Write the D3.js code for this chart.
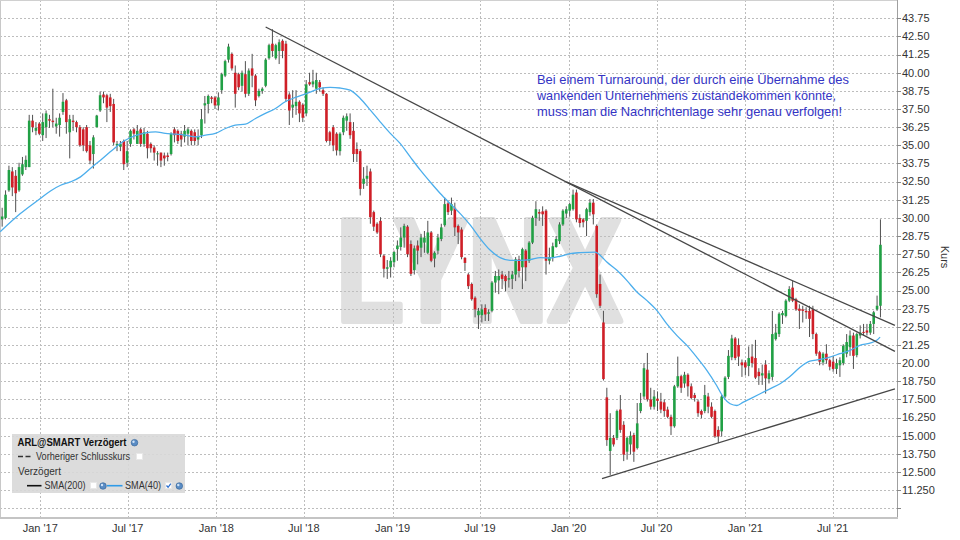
<!DOCTYPE html>
<html><head><meta charset="utf-8">
<script src="https://cdn.jsdelivr.net/npm/d3@7"></script>
<style>body{margin:0;background:#fff;} svg{display:block;font-family:"Liberation Sans",Arial,sans-serif;}</style>
</head><body><svg id="c" width="960" height="540"></svg>
<script>
// ---- data (weekly candles, ARL) ----
const firstWeek = "2016-10-14";
const open = [
29.9,30.0,31.9,33.2,32.9,31.9,33.0,33.5,33.5,36.7,
36.0,36.5,35.7,36.25,36.8,36.7,36.3,36.4,37.3,38.1,
35.9,36.7,36.6,36.25,36.1,36.25,35.0,34.4,36.25,37.4,
38.5,38.45,38.3,37.85,35.0,34.9,35.3,33.8,35.1,36.1,
35.1,36.1,35.1,35.8,35.1,34.85,34.4,34.5,34.3,34.3,
34.4,36.1,36.0,35.8,35.6,35.8,36.0,35.9,35.4,35.7,
37.75,37.85,38.3,38.3,37.75,38.8,39.8,40.9,41.3,40.0,
39.9,39.1,39.9,38.55,40.3,39.8,38.4,38.75,39.1,41.0,
42.0,41.0,41.5,42.2,42.0,38.5,37.6,37.7,38.0,37.8,
37.2,39.35,39.2,38.9,39.35,38.8,38.55,35.9,36.25,35.8,
34.6,35.9,36.7,36.6,36.0,34.75,34.6,32.35,32.7,33.2,
30.4,29.6,29.8,27.4,26.5,26.6,26.95,27.85,28.0,28.65,
29.4,28.2,26.4,28.1,27.95,28.3,27.6,29.0,27.2,27.75,
28.55,29.5,31.0,30.5,30.7,29.45,29.2,27.25,26.1,25.45,
24.5,23.3,23.3,23.8,23.4,23.6,25.55,25.7,26.1,26.0,
25.75,25.8,26.1,27.15,26.6,27.75,27.05,28.3,30.0,30.4,
30.45,30.5,27.05,27.3,28.0,28.4,29.55,30.3,30.5,30.6,
31.75,30.0,29.9,29.8,30.4,31.05,29.45,25.45,22.8,17.64,
13.95,14.85,14.85,16.8,15.75,13.9,14.4,15.05,14.15,16.7,
17.7,19.55,17.5,17.0,17.55,17.35,17.3,16.8,16.3,15.65,
18.4,19.1,18.6,19.2,18.4,17.8,17.35,16.7,16.7,17.7,
17.0,16.7,15.4,15.3,17.7,19.05,20.4,21.7,21.25,20.05,
20.05,19.8,20.45,20.35,19.4,19.15,19.9,18.9,19.05,21.65,
22.0,23.3,23.25,24.3,25.2,24.4,23.75,23.7,23.6,23.6,
23.7,22.0,20.75,20.05,20.65,20.2,20.1,19.6,19.85,20.0,
20.65,21.1,21.9,20.55,21.9,22.15,22.25,22.1,22.7,23.7,
23.95];
const high = [
30.7,31.9,33.6,33.5,33.3,33.8,34.2,34.3,37.1,37.1,
36.6,36.6,37.2,37.4,37.1,38.9,36.9,37.2,38.6,38.2,
37.1,37.1,36.7,36.4,36.25,36.4,35.3,35.7,37.1,38.7,
38.7,38.55,38.55,38.2,35.3,35.3,35.4,35.3,36.1,36.2,
36.4,36.2,36.2,36.0,35.2,35.0,34.6,34.5,34.5,34.5,
35.9,36.25,36.1,36.0,36.4,36.25,36.1,36.1,36.1,37.5,
38.4,38.5,38.4,38.4,38.65,40.0,40.9,42.0,41.4,40.5,
40.0,40.15,40.8,40.3,41.3,39.9,38.9,39.0,41.0,42.0,
43.0,42.0,42.3,42.3,42.2,38.65,38.8,38.8,38.1,37.9,
39.5,40.0,40.2,40.0,39.5,39.0,38.6,36.0,36.4,35.9,
35.9,37.05,37.2,37.2,36.6,35.2,34.75,33.5,33.6,33.4,
30.5,29.7,30.05,27.5,27.1,27.3,27.75,28.45,29.35,29.6,
29.5,28.45,28.1,28.45,28.9,29.1,29.8,29.1,27.7,28.9,
29.6,31.4,31.1,31.4,31.05,29.55,29.35,27.3,26.2,25.55,
24.6,23.8,24.05,24.05,23.7,25.65,26.35,26.45,26.35,26.1,
26.35,26.35,27.3,27.4,27.95,27.85,28.4,30.15,31.15,30.6,
30.8,30.6,27.95,28.3,28.75,29.7,30.6,30.8,31.05,31.95,
31.95,30.25,30.0,30.7,31.3,31.3,29.55,26.1,23.6,18.3,
16.55,15.05,16.8,17.8,16.0,14.95,15.3,15.2,17.25,17.95,
20.0,20.7,18.3,18.15,18.05,17.95,17.5,17.0,16.45,18.5,
20.45,19.2,19.4,19.3,18.6,17.95,17.5,16.8,18.5,17.95,
17.3,16.8,15.65,17.8,19.1,20.9,21.95,21.8,21.7,20.25,
20.2,21.15,21.3,21.6,19.65,19.9,20.2,19.5,23.6,22.7,
23.5,23.6,24.4,25.3,25.65,24.5,24.05,23.95,23.85,23.95,
23.95,22.1,20.85,20.75,21.3,20.3,20.5,20.3,20.4,21.3,
22.0,22.25,22.1,22.1,22.6,22.7,22.7,22.9,23.6,24.65,
29.9];
const low = [
29.4,29.9,31.8,31.5,30.4,31.8,32.9,33.3,33.5,35.9,
35.7,35.7,35.3,35.5,36.2,36.25,35.8,35.6,37.1,35.8,
34.1,36.0,35.9,34.9,34.6,34.5,33.7,33.4,36.25,37.3,
37.9,36.6,37.3,35.0,34.6,34.6,33.3,33.5,34.9,35.4,
35.1,34.9,34.9,34.1,34.5,33.95,33.6,33.5,33.6,33.9,
34.3,35.2,35.1,34.9,35.2,35.0,35.0,35.0,35.0,35.5,
36.5,37.2,37.9,37.5,37.4,38.55,39.7,40.7,40.15,37.6,
38.8,38.7,38.3,38.4,39.0,37.7,38.3,38.55,39.0,40.9,
41.1,40.9,40.6,41.0,38.0,36.4,36.9,37.1,36.6,36.6,
37.0,39.1,39.0,38.55,38.7,38.4,35.2,35.0,34.6,34.3,
34.3,35.7,36.0,35.45,33.85,33.85,31.55,32.0,32.2,29.6,
29.1,28.9,27.3,25.9,25.8,25.9,26.6,27.05,27.75,27.95,
27.3,26.0,26.1,26.8,27.3,27.6,27.5,26.95,26.6,27.5,
28.4,29.4,30.2,30.2,28.75,28.2,27.15,26.35,25.1,24.3,
23.15,22.35,22.8,22.9,22.9,23.5,24.85,24.75,25.1,24.95,
25.2,25.1,25.65,25.9,25.1,25.65,26.9,28.2,29.45,29.8,
29.45,26.1,26.8,27.0,27.95,28.2,29.45,30.0,30.1,30.5,
29.7,29.35,29.35,28.75,30.15,29.55,24.5,23.8,18.8,14.3,
12.3,14.25,14.7,15.2,13.25,13.35,13.7,13.2,14.05,16.55,
17.5,17.35,16.8,16.8,16.7,16.55,16.3,16.2,15.05,15.55,
18.3,17.95,18.3,17.7,17.5,17.35,16.3,16.2,16.55,16.55,
16.2,14.85,14.5,14.95,17.6,18.9,20.2,20.2,19.8,19.05,
19.15,19.1,19.7,18.9,18.5,18.5,17.9,18.6,18.8,21.55,
21.8,22.7,23.15,24.2,24.2,23.6,22.35,22.8,23.05,21.8,
21.65,20.5,19.85,19.85,19.95,19.5,19.4,19.25,19.05,19.85,
20.4,20.5,19.6,20.4,21.7,21.9,21.9,21.95,22.0,23.6,
23.15];
const close = [
30.1,31.6,33.3,32.1,31.7,33.5,33.7,34.0,36.7,36.25,
36.2,35.8,36.6,37.2,36.7,36.6,36.5,36.9,38.0,36.6,
36.8,36.6,36.25,35.0,35.0,34.6,33.95,35.55,37.05,38.45,
38.3,37.6,37.7,35.2,35.1,35.1,33.7,34.6,36.0,35.8,
36.0,35.1,35.9,34.8,34.8,34.5,34.45,33.95,34.1,34.2,
35.8,35.7,35.3,35.4,36.0,36.1,35.3,35.3,35.6,36.8,
37.9,38.4,38.2,37.75,38.3,39.9,40.8,41.8,40.3,38.55,
39.0,40.0,38.55,40.15,39.8,38.1,38.75,38.9,40.9,41.9,
41.5,41.9,42.1,41.5,38.2,37.4,37.8,38.0,37.2,36.9,
39.2,39.2,39.4,39.5,39.0,38.55,35.3,35.3,35.0,34.65,
35.8,36.9,37.0,35.7,34.4,34.4,32.0,32.7,32.9,30.05,
29.4,29.0,27.5,26.5,26.6,27.05,27.65,28.1,28.65,29.45,
27.5,26.15,27.9,27.75,28.65,28.65,29.0,27.05,27.6,28.65,
29.35,30.95,30.4,30.95,29.35,29.0,27.3,26.9,25.3,24.4,
23.7,23.6,23.7,23.35,23.5,25.55,26.0,26.0,25.8,25.65,
25.85,26.1,27.15,26.35,27.85,26.6,28.3,30.0,30.6,30.3,
30.25,27.05,27.3,28.05,28.55,29.55,30.5,30.6,30.95,31.6,
29.9,29.65,29.7,30.6,31.05,30.25,24.75,23.95,18.9,14.7,
14.85,14.4,16.7,15.4,13.7,14.85,15.0,13.9,15.85,17.25,
19.65,17.5,17.0,17.7,17.4,16.8,16.7,16.3,15.65,18.4,
19.1,18.3,19.2,18.4,17.6,17.6,16.55,16.45,17.8,17.0,
16.3,14.95,14.95,17.7,19.0,20.5,21.7,20.35,20.45,19.85,
19.7,20.35,20.0,19.0,19.1,19.3,18.95,19.3,22.0,22.1,
23.4,23.45,24.3,25.1,24.3,23.7,23.6,23.6,23.5,23.05,
22.0,20.65,20.1,20.65,20.2,19.75,19.6,20.0,20.2,21.2,
21.45,21.9,20.5,22.0,22.1,22.1,22.1,22.7,23.5,23.95,
28.15];
// SMA(40): week index (from firstWeek) and value
const smaWeek = [-0.6,5.4,11.3,14.3,17.3,20.2,23.2,26.1,29.1,32,35,38,42.4,45.4,48.3,51.3,54.2,57.2,60.2,63.1,66.1,69,72,75,77.9,80.9,83.8,86.8,89.7,94.2,97.1,100,103,106,109,111.9,114.9,117.8,120.8,123.8,126.7,129.7,132.6,135.6,138.6,141.5,144.5,147.4,150.4,153.3,156.3,159.3,162.2,165.2,168.1,171.1,175.5,177,179,182,184.9,187.9,190.8,193.8,196.7,199.7,202.7,205.6,208.6,211.5,213.5,215.5,217.5,219.4,221.4,224.4,227.3,230.3,233.2,236.2,239.1,242.1,245,248,251,253.9,256.9,258.9,259.9];
const smaValue = [29.05,30.3,31.34,31.86,32.25,32.48,32.83,33.4,33.98,34.55,35.13,35.54,35.86,35.93,35.82,35.77,35.7,35.58,35.7,35.82,36.16,36.39,36.46,36.85,37.2,37.54,38.0,38.3,38.53,38.92,38.99,38.95,38.8,38.23,37.43,36.62,35.82,35.13,34.2,33.29,32.48,31.68,30.99,30.3,29.5,28.58,27.77,27.27,27.08,27.08,27.13,27.27,27.24,27.36,27.54,27.61,27.65,27.43,26.96,26.39,25.7,24.9,24.32,23.63,22.72,21.91,21.22,20.41,19.5,18.46,17.65,17.2,17.08,17.31,17.54,17.89,18.23,18.58,19.08,19.72,20.14,20.25,20.41,20.65,20.88,21.22,21.38,21.57,21.79];
const priceTicks = [43.75,42.5,41.25,40,38.75,37.5,36.25,35,33.75,32.5,31.25,30,28.75,27.5,26.25,25,23.75,22.5,21.25,20,18.75,17.5,16.25,15,13.75,12.5,11.25,10];
const priceTickLabels = ["43.75","42.50","41.25","40.00","38.75","37.50","36.25","35.00","33.75","32.50","31.25","30.00","28.75","27.50","26.25","25.00","23.75","22.50","21.25","20.00","18.750","17.500","16.250","15.000","13.750","12.500","11.250",""];
const dateTicks = ["2017-01-01","2017-07-01","2018-01-01","2018-07-01","2019-01-01","2019-07-01","2020-01-01","2020-07-01","2021-01-01","2021-07-01"];
const dateTickLabels = ["Jan '17","Jul '17","Jan '18","Jul '18","Jan '19","Jul '19","Jan '20","Jul '20","Jan '21","Jul '21"];
const trendStart = [["2018-04-13",43.15],["2019-12-27",32.48],["2020-03-10",12.05]];
const trendEnd   = [["2021-11-07",20.81],["2021-11-07",22.6],["2021-11-07",18.23]];
const noteLines = ["Bei einem Turnaround, der durch eine Übernahme des","wankenden Unternehmens zustandekommen könnte,","muss man die Nachrichtenlage sehr genau verfolgen!"];

// ---- drawing ----
const svg = d3.select("#c");
const W = 897, H = 517.5;
const DAY = 86400000;
const t0 = Date.parse(firstWeek + "T00:00:00Z");
const weekDate = i => new Date(t0 + i*7*DAY);
const x = d3.scaleUtc().domain([new Date(Date.UTC(2017,0,1) - 83.5*DAY), new Date(Date.UTC(2017,0,1) + 1775.3*DAY)]).range([0, W]);
const y = d3.scaleLinear().domain([10, 43.75]).range([508.3, 18.3]);
const parse = s => new Date(s + "T00:00:00Z");

svg.append("rect").attr("width",960).attr("height",540).attr("fill","#fff");
svg.append("defs").append("clipPath").attr("id","clip").append("rect").attr("x",0).attr("y",0).attr("width",W).attr("height",H);

// watermark
svg.append("text").attr("x",336).attr("y",320.5).attr("font-size",146).attr("font-weight","bold")
  .attr("fill","#e0e0e0").attr("stroke","#e0e0e0").attr("stroke-width",6).attr("stroke-linejoin","round")
  .attr("textLength",286).attr("lengthAdjust","spacingAndGlyphs").text("LYNX");

// grid
const g = svg.append("g");
g.selectAll("line.h").data(priceTicks).join("line")
  .attr("x1",0).attr("x2",W).attr("y1",d=>Math.round(y(d))+0.5).attr("y2",d=>Math.round(y(d))+0.5)
  .attr("stroke","#bdbdbd").attr("stroke-dasharray","2,2");
g.selectAll("line.v").data(dateTicks).join("line")
  .attr("y1",0).attr("y2",H).attr("x1",d=>Math.round(x(parse(d)))+0.5).attr("x2",d=>Math.round(x(parse(d)))+0.5)
  .attr("stroke","#bdbdbd").attr("stroke-dasharray","2,2");

// frame
svg.append("line").attr("x1",0.5).attr("x2",0.5).attr("y1",0).attr("y2",H).attr("stroke","#c8c8c8");
svg.append("line").attr("x1",0).attr("x2",W).attr("y1",0.5).attr("y2",0.5).attr("stroke","#d0d0d0");
svg.append("line").attr("x1",W+0.5).attr("x2",W+0.5).attr("y1",0).attr("y2",H+1).attr("stroke","#a0a0a0");
svg.append("line").attr("x1",0).attr("x2",W+1).attr("y1",H+0.5).attr("y2",H+0.5).attr("stroke","#c4c4c4").attr("stroke-width",2);

// y axis (right)
const ya = svg.append("g");
ya.selectAll("line").data(priceTicks).join("line")
  .attr("x1",W).attr("x2",W+4).attr("y1",d=>Math.round(y(d))+0.5).attr("y2",d=>Math.round(y(d))+0.5).attr("stroke","#888");
ya.selectAll("text").data(priceTicks).join("text")
  .attr("x",902).attr("y",d=>y(d)).attr("dy","0.35em").attr("font-size",11).attr("fill","#333")
  .text((d,i)=>priceTickLabels[i]);
svg.append("text").attr("transform","translate(941,257) rotate(90)").attr("text-anchor","middle")
  .attr("font-size",11).attr("fill","#333").text("Kurs");

// x axis labels
svg.append("g").selectAll("text").data(dateTicks).join("text")
  .attr("x",d=>x(parse(d))).attr("y",532).attr("text-anchor","middle").attr("font-size",11).attr("fill","#333")
  .text((d,i)=>dateTickLabels[i]);

// candles
const plot = svg.append("g").attr("clip-path","url(#clip)");
const idx = d3.range(close.length);
plot.selectAll("line.w").data(idx).join("line")
  .attr("x1",i=>x(weekDate(i))).attr("x2",i=>x(weekDate(i)))
  .attr("y1",i=>y(high[i])).attr("y2",i=>y(low[i]))
  .attr("stroke","#505050").attr("stroke-width",1);
plot.selectAll("rect.b").data(idx).join("rect")
  .attr("x",i=>x(weekDate(i))-1.3).attr("width",2.6)
  .attr("y",i=>y(Math.max(open[i],close[i])))
  .attr("height",i=>Math.max(1, y(Math.min(open[i],close[i])) - y(Math.max(open[i],close[i]))))
  .attr("fill",i=>close[i]>=open[i] ? "#21a045" : "#cf1f27");

// SMA(40)
plot.append("path").datum(smaWeek.map((w,i)=>[w,smaValue[i]]))
  .attr("fill","none").attr("stroke","#4caeec").attr("stroke-width",1.3)
  .attr("d", d3.line().curve(d3.curveMonotoneX).x(d=>x(weekDate(d[0]))).y(d=>y(d[1])));

// trend lines
plot.selectAll("line.t").data(trendStart).join("line")
  .attr("x1",d=>x(parse(d[0]))).attr("y1",d=>y(d[1]))
  .attr("x2",(d,i)=>x(parse(trendEnd[i][0]))).attr("y2",(d,i)=>y(trendEnd[i][1]))
  .attr("stroke","#474747").attr("stroke-width",1.3);

// annotation
svg.append("g").selectAll("text").data(noteLines).join("text")
  .attr("x",537).attr("y",(d,i)=>84+i*15.8).attr("font-size",13).attr("fill","#3434c4")
  .attr("textLength",(d,i)=>[312,299,305][i]).attr("lengthAdjust","spacingAndGlyphs").text(d=>d);

// legend
const lg = svg.append("g");
lg.append("rect").attr("x",12).attr("y",434).attr("width",173).attr("height",59).attr("fill","#d8d8d8").attr("opacity",0.9);
const globe = (cx,cy)=>{
  lg.append("circle").attr("cx",cx).attr("cy",cy).attr("r",3.3).attr("fill","#5a8cc4").attr("stroke","#2f5f95").attr("stroke-width",0.6);
  lg.append("circle").attr("cx",cx-1).attr("cy",cy-1).attr("r",1.2).attr("fill","#cfe3f7");
};
const box = (bx,by,chk)=>{
  lg.append("rect").attr("x",bx).attr("y",by).attr("width",6).attr("height",6).attr("fill","#fff").attr("stroke","#e8e8e8");
  if(chk) lg.append("path").attr("d",`M${bx+1},${by+3} L${bx+2.6},${by+4.8} L${bx+5.3},${by+1.2}`).attr("fill","none").attr("stroke","#2a6fd0").attr("stroke-width",1.3);
};
const ltext = (tx,ty,s,len,bold)=>lg.append("text").attr("x",tx).attr("y",ty).attr("font-size",10)
  .attr("font-weight",bold?"bold":"normal").attr("fill",bold?"#111":"#333")
  .attr("textLength",len).attr("lengthAdjust","spacingAndGlyphs").text(s);
ltext(17.5,446,"ARL@SMART Verzögert",109,true);
globe(134.5,442.7);
lg.append("line").attr("x1",18).attr("x2",33).attr("y1",456.5).attr("y2",456.5).attr("stroke","#333").attr("stroke-width",1.6).attr("stroke-dasharray","5,2.5");
ltext(36,460.3,"Vorheriger Schlusskurs",94);
box(136.5,453.5,false);
ltext(18,475,"Verzögert",43);
lg.append("line").attr("x1",27).attr("x2",41.5).attr("y1",485.7).attr("y2",485.7).attr("stroke","#111").attr("stroke-width",1.6);
ltext(44.5,489.3,"SMA(200)",41);
box(90.5,482.5,false);
globe(103,486);
lg.append("line").attr("x1",107).attr("x2",122.5).attr("y1",485.7).attr("y2",485.7).attr("stroke","#2f9be8").attr("stroke-width",1.6);
ltext(125,489.3,"SMA(40)",36);
box(165.5,482.5,true);
globe(179.3,486);
</script></body></html>
